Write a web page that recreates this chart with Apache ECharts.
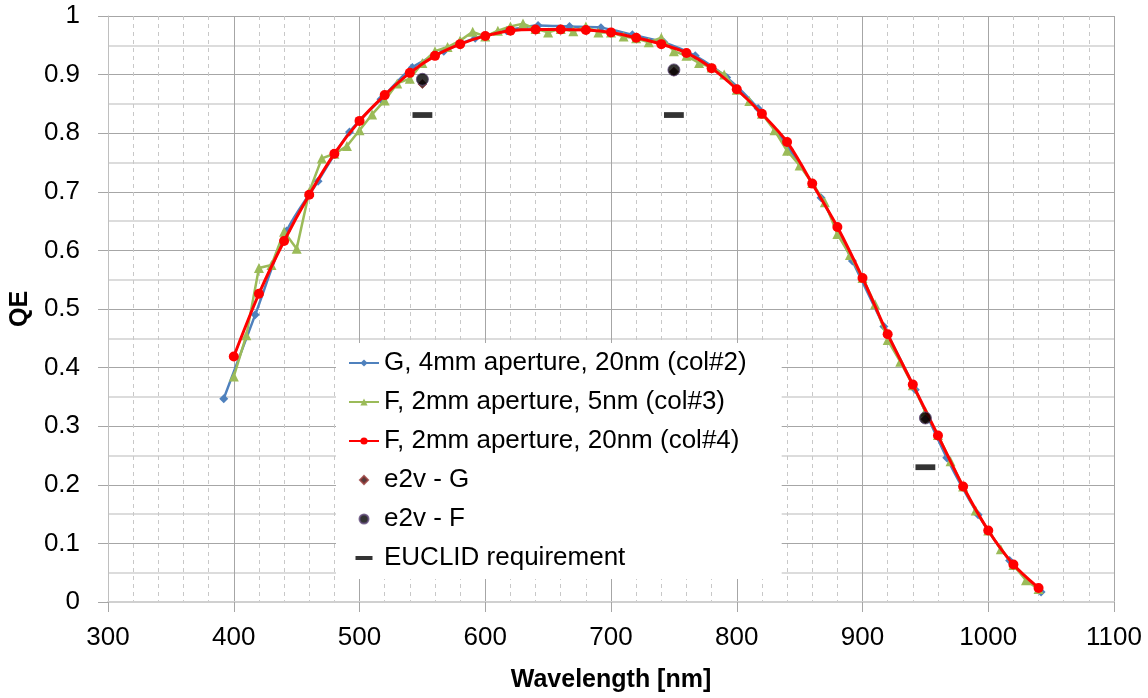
<!DOCTYPE html>
<html>
<head>
<meta charset="utf-8">
<script src="https://cdn.jsdelivr.net/npm/echarts@6/dist/echarts.min.js"></script>
<style>
  html, body { margin: 0; padding: 0; background: #fff; }
  #chart { width: 1148px; height: 698px; }
</style>
</head>
<body>
<div id="chart"></div>
<script>
// G, 4mm aperture, 20nm (col#2) - points every 25 nm
const gWave = [392, 417, 442, 467, 492, 517, 542, 567, 592, 617, 642, 667, 692, 717, 742, 767, 792, 817, 842, 867, 892, 917, 942, 967, 992, 1017, 1042];
const gQE = [0.347, 0.49, 0.633, 0.718, 0.802, 0.858, 0.912, 0.94, 0.962, 0.975, 0.984, 0.982, 0.98, 0.968, 0.955, 0.932, 0.895, 0.842, 0.772, 0.69, 0.582, 0.47, 0.362, 0.246, 0.149, 0.071, 0.017];

// F, 2mm aperture, 5nm (col#3) - points every 10 nm
const f5Wave = [400, 410, 420, 430, 440, 450, 460, 470, 480, 490, 500, 510, 520, 530, 540, 550, 560, 570, 580, 590, 600, 610, 620, 630, 640, 650, 660, 670, 680, 690, 700, 710, 720, 730, 740, 750, 760, 770, 780, 790, 800, 810, 820, 830, 840, 850, 860, 870, 880, 890, 900, 910, 920, 930, 940, 950, 960, 970, 980, 990, 1000, 1010, 1020, 1030, 1040];
const f5QE = [0.385, 0.455, 0.57, 0.575, 0.632, 0.603, 0.70, 0.757, 0.765, 0.778, 0.805, 0.832, 0.856, 0.885, 0.893, 0.92, 0.94, 0.947, 0.958, 0.973, 0.965, 0.975, 0.982, 0.987, 0.978, 0.972, 0.978, 0.974, 0.982, 0.972, 0.972, 0.965, 0.962, 0.955, 0.963, 0.94, 0.932, 0.92, 0.912, 0.9, 0.874, 0.855, 0.833, 0.805, 0.77, 0.745, 0.715, 0.682, 0.628, 0.592, 0.553, 0.508, 0.447, 0.41, 0.37, 0.325, 0.285, 0.24, 0.197, 0.156, 0.122, 0.09, 0.063, 0.037, 0.022];

// F, 2mm aperture, 20nm (col#4) - points every 20 nm
const f20Wave = [400, 420, 440, 460, 480, 500, 520, 540, 560, 580, 600, 620, 640, 660, 680, 700, 720, 740, 760, 780, 800, 820, 840, 860, 880, 900, 920, 940, 960, 980, 1000, 1020, 1040];
const f20QE = [0.419, 0.526, 0.616, 0.695, 0.765, 0.821, 0.865, 0.903, 0.932, 0.952, 0.966, 0.975, 0.977, 0.977, 0.976, 0.972, 0.963, 0.952, 0.937, 0.911, 0.875, 0.833, 0.785, 0.714, 0.640, 0.553, 0.457, 0.371, 0.284, 0.197, 0.122, 0.064, 0.024];

// e2v reference points and EUCLID requirement
const e2vWave = [550, 750, 950];
const e2vG = [0.884, 0.905, 0.312];
const e2vF = [0.892, 0.908, 0.314];
const reqWave = [550, 750, 950];
const reqQE = [0.831, 0.831, 0.23];

const xMin = 300, xMax = 1100, xStep = 100;
const yMin = 0, yMax = 1, yStep = 0.1;

const pairs = (xs, ys) => xs.map((x, i) => [x, ys[i]]);

const font = 'Liberation Sans';
// padded icons: the empty box keeps the legend marks small
const dash = 'path://M0,0L0,0M30,9L30,9M6.5,2.5h17v4h-17z';
const diamondIcon = 'path://M0,0L0,0M30,9L30,9M15,0.5L19,4.5L15,8.5L11,4.5z';

const chart = echarts.init(document.getElementById('chart'));

chart.setOption({
    animation: false,
    backgroundColor: '#fff',
    textStyle: { fontFamily: font },
    grid: { left: 107, right: 34, top: 16, bottom: 91 },
    legend: {
        orient: 'vertical',
        left: 336,
        top: 343,
        padding: [5, 35, 6, 12],
        backgroundColor: '#fff',
        itemWidth: 30,
        itemHeight: 9,
        itemGap: 9,
        symbolKeepAspect: true,
        textStyle: { fontFamily: font, fontSize: 26, color: '#000', lineHeight: 30 },
        data: [
            'G, 4mm aperture, 20nm (col#2)',
            'F, 2mm aperture, 5nm (col#3)',
            'F, 2mm aperture, 20nm (col#4)',
            { name: 'e2v - G', icon: diamondIcon },
            'e2v - F',
            'EUCLID requirement'
        ]
    },
    xAxis: {
        type: 'value',
        min: xMin,
        max: xMax,
        interval: xStep,
        name: 'Wavelength [nm]',
        nameLocation: 'middle',
        nameGap: 66,
        nameTextStyle: { fontFamily: font, fontSize: 25, fontWeight: 'bold', color: '#000' },
        axisLine: { show: true, onZero: false, lineStyle: { color: '#d0d0d0', width: 2 } },
        axisTick: { show: true, length: 10, lineStyle: { color: '#a6a6a6' } },
        axisLabel: { fontFamily: font, fontSize: 26, color: '#000', margin: 23, formatter: v => String(v) },
        splitLine: { show: true, lineStyle: { color: '#a6a6a6', width: 1 } },
        minorTick: { show: false, splitNumber: 5 },
        minorSplitLine: { show: true, lineStyle: { color: '#c8c8c8', width: 1, type: [4, 4] } }
    },
    yAxis: {
        type: 'value',
        min: yMin,
        max: yMax,
        interval: yStep,
        name: 'QE',
        nameLocation: 'middle',
        nameGap: 70,
        nameTextStyle: { fontFamily: font, fontSize: 25, fontWeight: 'bold', color: '#000' },
        axisLine: { show: true, lineStyle: { color: '#bfbfbf', width: 1 } },
        axisTick: { show: true, length: 10, lineStyle: { color: '#a6a6a6' } },
        axisLabel: { fontFamily: font, fontSize: 26, color: '#000', margin: 28 },
        splitLine: { show: true, lineStyle: { color: '#a6a6a6', width: 1 } },
        minorTick: { show: false, splitNumber: 2 },
        minorSplitLine: { show: true, lineStyle: { color: '#dcdcdc', width: 2 } }
    },
    series: [
        {
            name: 'G, 4mm aperture, 20nm (col#2)',
            type: 'line',
            data: pairs(gWave, gQE),
            smooth: 0.3,
            symbol: 'diamond',
            symbolSize: 9,
            itemStyle: { color: '#4f81bd' },
            lineStyle: { color: '#4f81bd', width: 2.5 },
            z: 2
        },
        {
            name: 'F, 2mm aperture, 5nm (col#3)',
            type: 'line',
            data: pairs(f5Wave, f5QE),
            symbol: 'triangle',
            symbolSize: 10,
            itemStyle: { color: '#9bbb59' },
            lineStyle: { color: '#9bbb59', width: 2.5 },
            z: 3
        },
        {
            name: 'F, 2mm aperture, 20nm (col#4)',
            type: 'line',
            data: pairs(f20Wave, f20QE),
            smooth: 0.3,
            symbol: 'circle',
            symbolSize: 10,
            itemStyle: { color: '#ff0000' },
            lineStyle: { color: '#ff0000', width: 3 },
            z: 4
        },
        {
            name: 'e2v - G',
            type: 'scatter',
            data: pairs(e2vWave, e2vG),
            symbol: 'diamond',
            symbolSize: 9,
            itemStyle: { color: '#2a0a0a', borderColor: '#953735', borderWidth: 1 },
            z: 5
        },
        {
            name: 'e2v - F',
            type: 'scatter',
            data: pairs(e2vWave, e2vF),
            symbol: 'circle',
            symbolSize: 12,
            itemStyle: { color: '#000', borderColor: '#604a7b', borderWidth: 1 },
            z: 6
        },
        {
            name: 'EUCLID requirement',
            type: 'scatter',
            data: pairs(reqWave, reqQE),
            symbol: dash,
            symbolSize: [35, 13],
            itemStyle: { color: '#000' },
            z: 6
        }
    ]
});
</script>
</body>
</html>
